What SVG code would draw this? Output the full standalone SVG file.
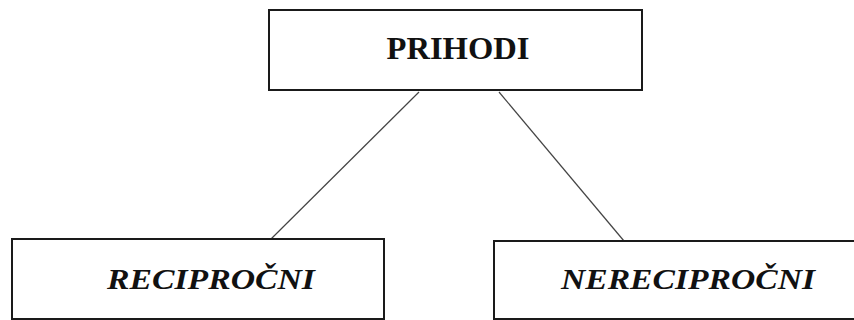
<svg xmlns="http://www.w3.org/2000/svg" width="854" height="320" viewBox="0 0 854 320">
<style>
.box{fill:#fff;stroke:#1a1a1a;stroke-width:2}
.conn{stroke:#444;stroke-width:1.2;fill:none}
.t{font-family:"Liberation Serif","Times New Roman",serif;font-weight:bold;fill:#111;text-anchor:middle}
.i{font-style:italic}
</style>
<rect width="854" height="320" fill="#fff"/>
<g id="connectors">
<line class="conn" x1="419" y1="92" x2="271" y2="239"/>
<line class="conn" x1="499" y1="92" x2="624" y2="241"/>
</g>
<g id="prihodi">
<rect class="box" x="269" y="10" width="373" height="80"/>
<text class="t" x="458" y="59" font-size="31" textLength="143" lengthAdjust="spacingAndGlyphs">PRIHODI</text>
</g>
<g id="reciprocni">
<rect class="box" x="12" y="239" width="372" height="80"/>
<text class="t i" x="211" y="289" font-size="30" textLength="208" lengthAdjust="spacingAndGlyphs">RECIPROČNI</text>
</g>
<g id="nereciprocni">
<rect class="box" x="494" y="241" width="370" height="78"/>
<text class="t i" x="688" y="289" font-size="30" textLength="254" lengthAdjust="spacingAndGlyphs">NERECIPROČNI</text>
</g>
</svg>
